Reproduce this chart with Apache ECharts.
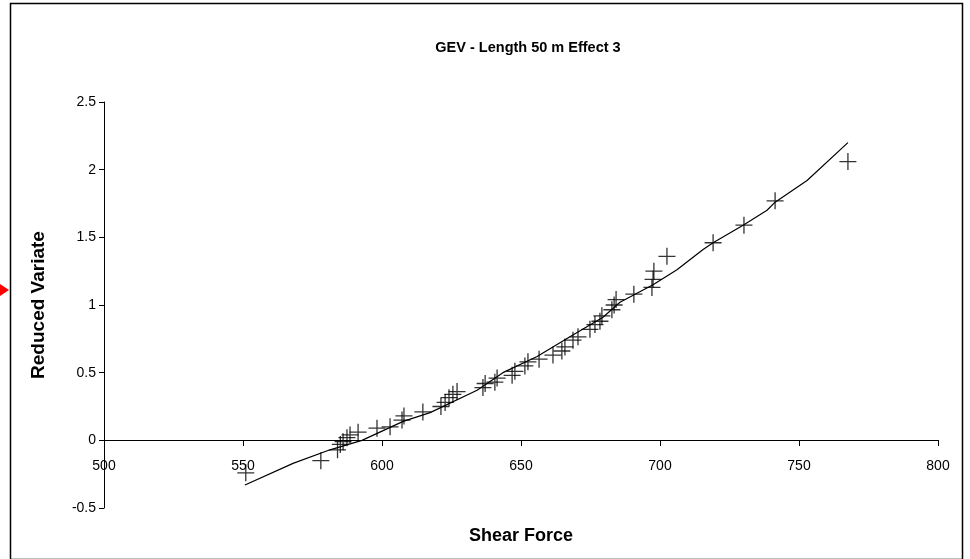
<!DOCTYPE html>
<html>
<head>
<meta charset="utf-8">
<script src="https://cdn.jsdelivr.net/npm/echarts@6/dist/echarts.min.js"></script>
<style>html,body{margin:0;padding:0;background:#fff}#c{width:970px;height:559px}</style>
</head>
<body>
<div id="c"></div>
<script>
// Observed data (Shear Force vs Reduced Variate)
const obsX = [551,578,584,585,586,587.4,588.5,591.4,598.2,602.9,607.2,607.9,614.7,621.2,622.7,624.1,625.5,627,636.3,637.1,640.6,641.4,646.8,647.8,651.4,652.5,656.5,661.5,664.7,665.8,668.7,670.5,674.8,676.6,678.4,679.1,682.7,683.5,684.2,690.6,697.1,697.5,697.8,702.5,719.1,730.2,741.4,767.6];
const obsY = [-0.24,-0.15,-0.07,-0.03,-0.01,0.02,0.04,0.06,0.09,0.10,0.15,0.18,0.21,0.25,0.28,0.315,0.34,0.36,0.39,0.42,0.43,0.46,0.48,0.51,0.55,0.58,0.60,0.63,0.66,0.69,0.74,0.765,0.82,0.855,0.88,0.92,0.965,1.0,1.04,1.08,1.13,1.19,1.25,1.36,1.46,1.59,1.77,2.06];
// Fitted GEV curve
const fitX = [550.7,568,581.3,592.8,607.6,617.3,634.2,643.5,655.8,667.6,679.5,685.6,697.5,706.1,715.5,719.1,729.9,738.5,741.4,752.9,767.6];
const fitY = [-0.33,-0.17,-0.07,0.0,0.14,0.205,0.37,0.50,0.62,0.765,0.91,1.02,1.15,1.26,1.41,1.46,1.59,1.70,1.76,1.92,2.20];
const xTicks = [500,550,600,650,700,750,800];
const yTicks = [-0.5,0,0.5,1,1.5,2,2.5];

const chart = echarts.init(document.getElementById('c'), null, {renderer:'canvas'});
const font = 'Liberation Sans, Arial, sans-serif';
const gridTop = 102, gridBottom = 51, plotH = 559 - gridTop - gridBottom;
const yMin = -0.5, yMax = 2.5;
// distance from bottom of plot to the y=0 line, used to lift the x axis onto zero
const zeroLift = Math.round(plotH * (0 - yMin) / (yMax - yMin));
chart.setOption({
  animation:false,
  backgroundColor:'#fff',
  title:{text:'GEV - Length 50 m Effect 3', left:523, top:35, textAlign:'center',
    textStyle:{fontFamily:font, fontSize:14.5, fontWeight:'bold', color:'#000'}},
  grid:{left:104, right:32, top:gridTop, bottom:gridBottom, containLabel:false, outerBoundsMode:'none'},
  xAxis:{type:'value', min:500, max:800, interval:50, position:'bottom', offset:-zeroLift,
    name:'Shear Force', nameLocation:'middle', nameGap:87,
    nameTextStyle:{fontFamily:font, fontSize:18, fontWeight:'bold', color:'#000'},
    axisLine:{onZero:false, lineStyle:{color:'#000', width:1}},
    axisTick:{show:true, length:6, lineStyle:{color:'#000'}},
    axisLabel:{fontFamily:font, fontSize:14, color:'#000', margin:19,
      formatter:v=>xTicks.includes(v)?String(v):''},
    splitLine:{show:false}},
  yAxis:{type:'value', min:yMin, max:yMax, interval:0.5,
    name:'Reduced Variate', nameLocation:'middle', nameGap:56, nameRotate:90,
    nameTextStyle:{fontFamily:font, fontSize:19, fontWeight:'bold', color:'#000'},
    axisLine:{show:true, onZero:false, lineStyle:{color:'#000', width:1}},
    axisTick:{show:true, length:5, lineStyle:{color:'#000'}},
    axisLabel:{fontFamily:font, fontSize:14, color:'#000', margin:8,
      formatter:v=>{const t=yTicks.find(k=>Math.abs(k-v)<1e-9);return t===undefined?'':String(t);}},
    splitLine:{show:false}},
  series:[
    {type:'line', data:fitX.map((x,i)=>[x,fitY[i]]), showSymbol:false, symbol:'none',
      lineStyle:{color:'#000', width:1.2}, z:2},
    {type:'scatter', data:obsX.map((x,i)=>[x,obsY[i]]),
      symbol:'path://M10,0L10,20M0,10L20,10', symbolSize:17,
      itemStyle:{color:'#000', borderColor:'#000', borderWidth:1.3}, z:3}
  ],
  graphic:[
    {type:'rect', left:8, top:1, shape:{width:952, height:556}, style:{fill:'none', stroke:'#000', lineWidth:1.5}, silent:true},
    {type:'polygon', shape:{points:[[0,284],[9,290],[0,296]]}, style:{fill:'#ff0000'}, silent:true}
  ]
});
</script>
</body>
</html>
